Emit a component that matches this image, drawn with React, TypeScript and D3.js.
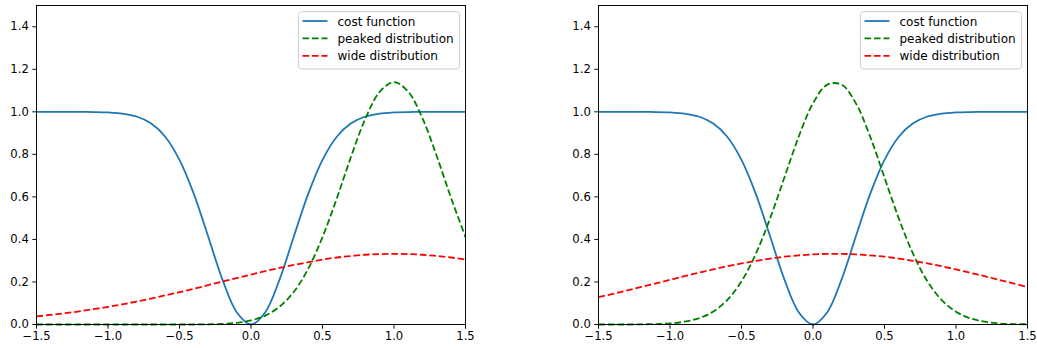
import { useEffect, useRef } from 'react'
import * as d3 from 'd3'

// sample positions along x
const xs = [
  -1.5, -1.4, -1.3, -1.2, -1.1, -1.0, -0.9, -0.8, -0.7, -0.6, -0.5, -0.4, -0.3, -0.2, -0.1, 0.0,
  0.1, 0.2, 0.3, 0.4, 0.5, 0.6, 0.7, 0.8, 0.9, 1.0, 1.1, 1.2, 1.3, 1.4, 1.5,
]

// values
const costFunction = [
  1.0, 1.0, 1.0, 1.0, 0.999, 0.997, 0.992, 0.978, 0.946, 0.883, 0.774, 0.614, 0.415, 0.212, 0.058, 0.0,
  0.058, 0.212, 0.415, 0.614, 0.774, 0.883, 0.946, 0.978, 0.992, 0.997, 0.999, 1.0, 1.0, 1.0, 1.0,
]

const peakedLeft = [
  0, 0, 0, 0, 0, 0, 0, 0, 0, 0, 0, 0, 0.001, 0.003, 0.008, 0.019,
  0.042, 0.084, 0.154, 0.262, 0.411, 0.593, 0.79, 0.968, 1.094, 1.14, 1.094, 0.968, 0.79, 0.593, 0.411,
]

const wideLeft = [
  0.038, 0.045, 0.053, 0.062, 0.072, 0.083, 0.095, 0.108, 0.122, 0.137, 0.152, 0.168, 0.185, 0.202, 0.218, 0.235,
  0.251, 0.266, 0.28, 0.293, 0.305, 0.315, 0.322, 0.328, 0.331, 0.332, 0.331, 0.328, 0.322, 0.315, 0.305,
]

const peakedRight = [
  0, 0, 0, 0.001, 0.002, 0.005, 0.013, 0.029, 0.06, 0.115, 0.203, 0.332, 0.499, 0.691, 0.883, 1.04,
  1.128, 1.128, 1.04, 0.883, 0.691, 0.499, 0.332, 0.203, 0.115, 0.06, 0.029, 0.013, 0.005, 0.002, 0.001,
]

const wideRight = [
  0.129, 0.144, 0.16, 0.177, 0.193, 0.21, 0.227, 0.243, 0.259, 0.274, 0.287, 0.299, 0.31, 0.319, 0.325, 0.33,
  0.332, 0.332, 0.33, 0.325, 0.319, 0.31, 0.299, 0.287, 0.274, 0.259, 0.243, 0.227, 0.21, 0.193, 0.177,
]

const xTicks = [-1.5, -1.0, -0.5, 0.0, 0.5, 1.0, 1.5]
const yTicks = [0.0, 0.2, 0.4, 0.6, 0.8, 1.0, 1.2, 1.4]
const legendLabels = ['cost function', 'peaked distribution', 'wide distribution']

const WIDTH = 1037
const HEIGHT = 348
const FONT = '"DejaVu Sans", sans-serif'

const panels = [
  { left: 36.5, right: 465.5, peaked: peakedLeft, wide: wideLeft },
  { left: 598.5, right: 1027.5, peaked: peakedRight, wide: wideRight },
]

export default function App() {
  const svgRef = useRef<SVGSVGElement>(null)

  useEffect(() => {
    document.body.style.margin = '0'
    if (!svgRef.current) return

    const svg = d3.select(svgRef.current)
    svg.selectAll('*').remove()

    const top = 5.5
    const bottom = 324.5
    const yScale = d3.scaleLinear().domain([0, 1.5]).range([bottom, top])

    panels.forEach((p) => {
      const xScale = d3.scaleLinear().domain([-1.5, 1.5]).range([p.left, p.right])
      const g = svg.append('g')

      const line = d3
        .line<number>()
        .x((_, i) => xScale(xs[i]))
        .y((d) => yScale(d))
        .curve(d3.curveCatmullRom)

      const series = [
        { values: costFunction, color: '#1f77b4', dash: null },
        { values: p.peaked, color: '#008000', dash: '6.6,2.9' },
        { values: p.wide, color: '#ff0000', dash: '6.6,2.9' },
      ]

      series.forEach((s) => {
        g.append('path')
          .attr('d', line(s.values))
          .attr('fill', 'none')
          .attr('stroke', s.color)
          .attr('stroke-width', 1.8)
          .attr('stroke-dasharray', s.dash)
      })

      // X axis
      const xAxis = g
        .append('g')
        .attr('transform', `translate(0,${bottom})`)
        .call(
          d3
            .axisBottom(xScale)
            .tickValues(xTicks)
            .tickFormat(d3.format('.1f'))
            .tickSize(4.2)
            .tickSizeOuter(0)
            .tickPadding(3.5)
            .offset(0)
        )
      xAxis.select('.domain').remove()
      xAxis.selectAll('line').attr('stroke', '#000').attr('stroke-width', 0.96)
      xAxis
        .selectAll('text')
        .attr('fill', '#000')
        .attr('font-size', '11.6px')
        .attr('font-family', FONT)

      // Y axis
      const yAxis = g
        .append('g')
        .attr('transform', `translate(${p.left},0)`)
        .call(
          d3
            .axisLeft(yScale)
            .tickValues(yTicks)
            .tickFormat(d3.format('.1f'))
            .tickSize(4.2)
            .tickSizeOuter(0)
            .tickPadding(3.5)
            .offset(0)
        )
      yAxis.select('.domain').remove()
      yAxis.selectAll('line').attr('stroke', '#000').attr('stroke-width', 0.96)
      yAxis
        .selectAll('text')
        .attr('fill', '#000')
        .attr('font-size', '11.6px')
        .attr('font-family', FONT)

      // frame
      g.append('rect')
        .attr('x', p.left)
        .attr('y', top)
        .attr('width', p.right - p.left)
        .attr('height', bottom - top)
        .attr('fill', 'none')
        .attr('stroke', '#000')
        .attr('stroke-width', 0.96)

      // Legend
      const boxW = 161
      const boxX = p.right - 6 - boxW
      const boxY = 11.7
      const legend = g.append('g').attr('transform', `translate(${boxX},${boxY})`)
      legend
        .append('rect')
        .attr('width', boxW)
        .attr('height', 57.3)
        .attr('rx', 3)
        .attr('fill', 'white')
        .attr('fill-opacity', 0.8)
        .attr('stroke', '#cccccc')
        .attr('stroke-width', 0.96)

      legendLabels.forEach((label, i) => {
        const rowY = 9.3 + i * 17.4
        legend
          .append('line')
          .attr('x1', 4)
          .attr('x2', 29)
          .attr('y1', rowY)
          .attr('y2', rowY)
          .attr('stroke', series[i].color)
          .attr('stroke-width', 1.8)
          .attr('stroke-dasharray', series[i].dash)
        legend
          .append('text')
          .attr('x', 39)
          .attr('y', rowY + 4.6)
          .attr('fill', '#000')
          .attr('font-size', '12px')
          .attr('font-family', FONT)
          .text(label)
      })
    })
  }, [])

  return <svg ref={svgRef} width={WIDTH} height={HEIGHT} style={{ display: 'block', background: 'white' }} />
}
